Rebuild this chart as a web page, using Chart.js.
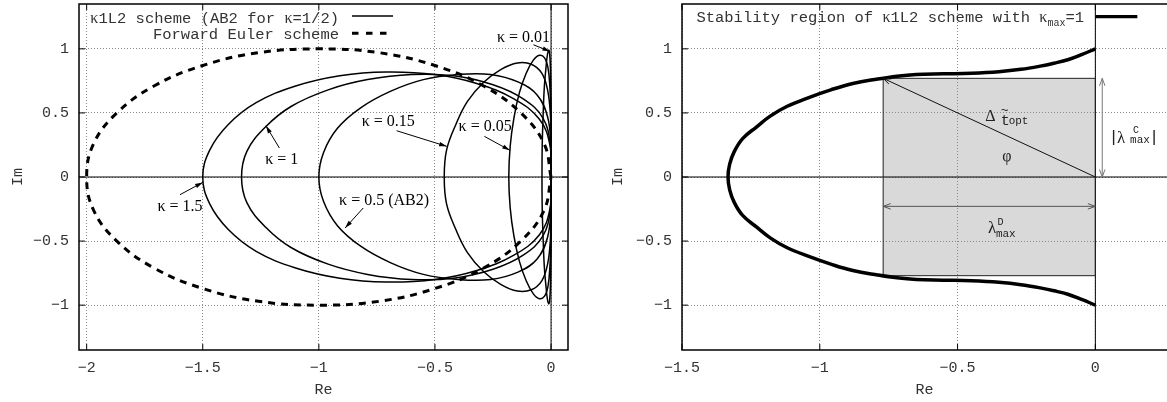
<!DOCTYPE html>
<html>
<head>
<meta charset="utf-8">
<script src="https://cdn.jsdelivr.net/npm/chart.js"></script>
<style>
  html, body { margin: 0; padding: 0; background: #fff; }
  #wrap { position: relative; width: 1167px; height: 402px; overflow: hidden; }
  canvas { position: absolute; top: 0; }
  #leftChart { left: 0; }
  #rightChart { left: 600px; }
</style>
</head>
<body>
<div id="wrap">
  <canvas id="leftChart" width="600" height="402"></canvas>
  <canvas id="rightChart" width="567" height="402"></canvas>
</div>
<script>
// ---- values ----
var xTicksLeft = [-2, -1.5, -1, -0.5, 0];
var xLabelsLeft = ['\u22122', '\u22121.5', '\u22121', '\u22120.5', '0'];
var xTicksRight = [-1.5, -1, -0.5, 0];
var xLabelsRight = ['\u22121.5', '\u22121', '\u22120.5', '0'];
var yTicks = [-1, -0.5, 0, 0.5, 1];
var yLabels = ['\u22121', '\u22120.5', '0', '0.5', '1'];

// Forward Euler boundary (dashed)
var eulerRe = [0, -0.03, -0.13, -0.29, -0.50, -0.74, -1.00, -1.26, -1.50, -1.71, -1.87, -1.97, -2.00,
               -1.97, -1.87, -1.71, -1.50, -1.26, -1.00, -0.74, -0.50, -0.29, -0.13, -0.03, 0];
var eulerIm = [0, 0.26, 0.50, 0.71, 0.87, 0.97, 1.00, 0.97, 0.87, 0.71, 0.50, 0.26, 0,
               -0.26, -0.50, -0.71, -0.87, -0.97, -1.00, -0.97, -0.87, -0.71, -0.50, -0.26, 0];

// kappa = 1.5
var k150Re = [0, -0.005, -0.05, -0.16, -0.32, -0.50, -0.71, -0.91, -1.10, -1.27, -1.39, -1.47, -1.50,
              -1.47, -1.39, -1.27, -1.10, -0.91, -0.71, -0.50, -0.32, -0.16, -0.05, -0.005, 0];
var k150Im = [0, 0.25, 0.45, 0.61, 0.73, 0.80, 0.82, 0.79, 0.71, 0.58, 0.41, 0.21, 0,
              -0.21, -0.41, -0.58, -0.71, -0.79, -0.82, -0.80, -0.73, -0.61, -0.45, -0.25, 0];
// kappa = 1
var k100Re = [0, -0.003, -0.035, -0.12, -0.25, -0.42, -0.60, -0.79, -0.96, -1.12, -1.23, -1.31, -1.333,
              -1.31, -1.23, -1.12, -0.96, -0.79, -0.60, -0.42, -0.25, -0.12, -0.035, -0.003, 0];
var k100Im = [0, 0.25, 0.46, 0.61, 0.72, 0.79, 0.80, 0.76, 0.68, 0.55, 0.39, 0.20, 0,
              -0.20, -0.39, -0.55, -0.68, -0.76, -0.80, -0.79, -0.72, -0.61, -0.46, -0.25, 0];
// kappa = 0.5 (AB2)
var k050Re = [0, -0.001, -0.015, -0.06, -0.14, -0.26, -0.40, -0.55, -0.69, -0.82, -0.92, -0.98, -1.00,
              -0.98, -0.92, -0.82, -0.69, -0.55, -0.40, -0.26, -0.14, -0.06, -0.015, -0.001, 0];
var k050Im = [0, 0.25, 0.47, 0.64, 0.74, 0.80, 0.80, 0.76, 0.67, 0.54, 0.38, 0.19, 0,
              -0.19, -0.38, -0.54, -0.67, -0.76, -0.80, -0.80, -0.74, -0.64, -0.47, -0.25, 0];
// kappa = 0.15
var k015Re = [0, 0, -0.003, -0.015, -0.04, -0.085, -0.145, -0.215, -0.29, -0.36, -0.41, -0.45, -0.46,
              -0.45, -0.41, -0.36, -0.29, -0.215, -0.145, -0.085, -0.04, -0.015, -0.003, 0, 0];
var k015Im = [0, 0.26, 0.49, 0.68, 0.81, 0.88, 0.89, 0.84, 0.74, 0.59, 0.41, 0.21, 0,
              -0.21, -0.41, -0.59, -0.74, -0.84, -0.89, -0.88, -0.81, -0.68, -0.49, -0.26, 0];
// kappa = 0.05
var k005Re = [0, 0, -0.001, -0.005, -0.013, -0.028, -0.05, -0.077, -0.107, -0.136, -0.16, -0.176, -0.182,
              -0.176, -0.16, -0.136, -0.107, -0.077, -0.05, -0.028, -0.013, -0.005, -0.001, 0, 0];
var k005Im = [0, 0.26, 0.50, 0.70, 0.85, 0.93, 0.95, 0.91, 0.81, 0.66, 0.46, 0.24, 0,
              -0.24, -0.46, -0.66, -0.81, -0.91, -0.95, -0.93, -0.85, -0.70, -0.50, -0.26, 0];
// kappa = 0.01
var k001Re = [0, 0, 0, -0.001, -0.003, -0.006, -0.010, -0.016, -0.022, -0.029, -0.034, -0.038, -0.039,
              -0.038, -0.034, -0.029, -0.022, -0.016, -0.010, -0.006, -0.003, -0.001, 0, 0, 0];
var k001Im = [0, 0.26, 0.50, 0.71, 0.86, 0.96, 0.99, 0.95, 0.85, 0.70, 0.49, 0.25, 0,
              -0.25, -0.49, -0.70, -0.85, -0.95, -0.99, -0.96, -0.86, -0.71, -0.50, -0.26, 0];

// stability region with kappa_max = 1 (right panel)
var envRe = [0, -0.05, -0.10, -0.15, -0.20, -0.27, -0.35, -0.45, -0.55, -0.65, -0.72, -0.79, -0.88, -0.96,
             -1.04, -1.12, -1.18, -1.23, -1.28, -1.31, -1.327, -1.333,
             -1.327, -1.31, -1.28, -1.23, -1.18, -1.12, -1.04, -0.96, -0.88, -0.79, -0.72,
             -0.65, -0.55, -0.45, -0.35, -0.27, -0.20, -0.15, -0.10, -0.05, 0];
var envIm = [1.00, 0.955, 0.915, 0.888, 0.865, 0.84, 0.822, 0.81, 0.805, 0.80, 0.787, 0.765, 0.73, 0.68,
             0.62, 0.55, 0.475, 0.39, 0.30, 0.20, 0.10, 0,
             -0.10, -0.20, -0.30, -0.39, -0.475, -0.55, -0.62, -0.68, -0.73, -0.765, -0.787,
             -0.80, -0.805, -0.81, -0.822, -0.84, -0.865, -0.888, -0.915, -0.955, -1.00];

// shaded box: [re min, re max], [im min, im max]
var boxRe = [-0.77, 0];
var boxIm = [-0.77, 0.77];

// ---- styling ----
var INK = '#333';
var GRID = '#8a8a8a';
var MONO = '15px "Liberation Mono", monospace';
var MONO_KEY = '15.5px "Liberation Mono", monospace';
var MONO_SUB = '11px "Liberation Mono", monospace';
var MONO_SUP = '10px "Liberation Mono", monospace';
var SERIF = '16px "Liberation Serif", serif';
var SERIF_BIG = '17px "Liberation Serif", serif';
var monoFont = {family: '"Liberation Mono", monospace', size: 15};

var leftLabels = [
  {t: '\u03ba = 1.5', at: [-1.598, -0.229]},
  {t: '\u03ba = 1', at: [-1.160, 0.135]},
  {t: '\u03ba = 0.15', at: [-0.701, 0.434]},
  {t: '\u03ba = 0.05', at: [-0.284, 0.390]},
  {t: '\u03ba = 0.01', at: [-0.119, 1.085]},
  {t: '\u03ba = 0.5 (AB2)', at: [-0.719, -0.185]}
];
var leftArrows = [
  {from: [-1.598, -0.138], to: [-1.5, -0.042]},
  {from: [-1.170, 0.226], to: [-1.228, 0.40]},
  {from: [-0.665, 0.361], to: [-0.449, 0.239]},
  {from: [-0.287, 0.317], to: [-0.177, 0.208]},
  {from: [-0.076, 1.032], to: [-0.004, 0.980]},
  {from: [-0.809, -0.242], to: [-0.887, -0.398]}
];

function head(ctx, x1, y1, x2, y2, open) {
  var ang = Math.atan2(y2 - y1, x2 - x1), L = 8, w = open ? 0.35 : 0.28;
  ctx.beginPath();
  ctx.moveTo(x2 - L * Math.cos(ang - w), y2 - L * Math.sin(ang - w));
  ctx.lineTo(x2, y2);
  ctx.lineTo(x2 - L * Math.cos(ang + w), y2 - L * Math.sin(ang + w));
  if (open) { ctx.stroke(); } else { ctx.closePath(); ctx.fill(); }
}

function arrow(ctx, x1, y1, x2, y2, both, open) {
  ctx.beginPath();
  ctx.moveTo(x1, y1);
  ctx.lineTo(x2, y2);
  ctx.stroke();
  head(ctx, x1, y1, x2, y2, open);
  if (both) head(ctx, x2, y2, x1, y1, open);
}

// text made of pieces in different fonts, right aligned at xr
function richRight(ctx, parts, xr, y) {
  var w = 0;
  parts.forEach(function(p) { ctx.font = p.f; w += ctx.measureText(p.t).width; });
  var x = xr - w;
  parts.forEach(function(p) {
    ctx.font = p.f;
    ctx.fillText(p.t, x, y + (p.dy || 0));
    x += ctx.measureText(p.t).width;
  });
}

function curve(re, im, width, dash) {
  return {
    data: re.map(function(r, i) { return {x: r, y: im[i]}; }),
    showLine: true,
    borderColor: '#000',
    borderWidth: width,
    borderDash: dash || [],
    borderCapStyle: 'butt',
    pointRadius: 0,
    tension: 0.4,
    fill: false
  };
}

// frame, inward tics and zero axes, gnuplot style
var frame = {
  id: 'frame',
  beforeDatasetsDraw: function(chart) {
    var ctx = chart.ctx, a = chart.chartArea;
    var x0 = chart.scales.x.getPixelForValue(0), y0 = chart.scales.y.getPixelForValue(0);
    ctx.save();
    ctx.strokeStyle = '#000';
    ctx.lineWidth = 1;
    ctx.beginPath();
    ctx.moveTo(a.left, y0); ctx.lineTo(a.right, y0);
    ctx.moveTo(x0, a.top); ctx.lineTo(x0, a.bottom);
    ctx.stroke();
    ctx.restore();
  },
  afterDraw: function(chart, args, opts) {
    var ctx = chart.ctx, a = chart.chartArea;
    var sx = chart.scales.x, sy = chart.scales.y;
    ctx.save();
    ctx.strokeStyle = '#000';
    ctx.lineWidth = 1.5;
    ctx.beginPath();
    if (opts.right) {
      ctx.rect(a.left, a.top, a.right - a.left, a.bottom - a.top);
    } else {
      ctx.moveTo(a.right + 2, a.top); ctx.lineTo(a.left, a.top);
      ctx.lineTo(a.left, a.bottom); ctx.lineTo(a.right + 2, a.bottom);
    }
    ctx.stroke();
    ctx.lineWidth = 1;
    ctx.beginPath();
    sx.ticks.forEach(function(t) {
      var x = sx.getPixelForValue(t.value);
      ctx.moveTo(x, a.bottom); ctx.lineTo(x, a.bottom - 6);
      ctx.moveTo(x, a.top); ctx.lineTo(x, a.top + 6);
    });
    sy.ticks.forEach(function(t) {
      var y = sy.getPixelForValue(t.value);
      ctx.moveTo(a.left, y); ctx.lineTo(a.left + 6, y);
      if (opts.right) { ctx.moveTo(a.right, y); ctx.lineTo(a.right - 6, y); }
    });
    ctx.stroke();
    ctx.restore();
  }
};

var leftNotes = {
  id: 'leftNotes',
  afterDraw: function(chart) {
    var ctx = chart.ctx, a = chart.chartArea;
    var X = function(v) { return chart.scales.x.getPixelForValue(v); };
    var Y = function(v) { return chart.scales.y.getPixelForValue(v); };
    ctx.save();
    ctx.fillStyle = INK;
    ctx.textAlign = 'left';
    ctx.textBaseline = 'alphabetic';
    richRight(ctx, [
      {t: '\u03ba', f: SERIF},
      {t: '1L2 scheme (AB2 for ', f: MONO_KEY},
      {t: '\u03ba', f: SERIF},
      {t: '=1/2)', f: MONO_KEY}
    ], a.left + 260, a.top + 19);
    richRight(ctx, [{t: 'Forward Euler scheme', f: MONO_KEY}], a.left + 260, a.top + 34.5);
    ctx.strokeStyle = '#000';
    ctx.lineWidth = 1.5;
    ctx.beginPath(); ctx.moveTo(a.left + 273, a.top + 12); ctx.lineTo(a.left + 314, a.top + 12); ctx.stroke();
    ctx.lineWidth = 3;
    ctx.setLineDash([6.5, 7.5]);
    ctx.beginPath(); ctx.moveTo(a.left + 273, a.top + 29.3); ctx.lineTo(a.left + 314, a.top + 29.3); ctx.stroke();
    ctx.setLineDash([]);

    ctx.font = SERIF;
    ctx.fillStyle = '#000';
    ctx.textAlign = 'center';
    ctx.textBaseline = 'middle';
    leftLabels.forEach(function(l) { ctx.fillText(l.t, X(l.at[0]), Y(l.at[1])); });
    ctx.lineWidth = 1;
    leftArrows.forEach(function(r) {
      arrow(ctx, X(r.from[0]), Y(r.from[1]), X(r.to[0]), Y(r.to[1]), false, false);
    });
    ctx.restore();
  }
};

var rightNotes = {
  id: 'rightNotes',
  beforeDraw: function(chart) {
    var ctx = chart.ctx, sx = chart.scales.x, sy = chart.scales.y;
    var x1 = sx.getPixelForValue(boxRe[0]), x2 = sx.getPixelForValue(boxRe[1]);
    var y1 = sy.getPixelForValue(boxIm[1]), y2 = sy.getPixelForValue(boxIm[0]);
    ctx.save();
    ctx.fillStyle = '#d9d9d9';
    ctx.fillRect(x1, y1, x2 - x1, y2 - y1);
    ctx.restore();
  },
  beforeDatasetsDraw: function(chart) {
    var ctx = chart.ctx, sx = chart.scales.x, sy = chart.scales.y;
    var x1 = sx.getPixelForValue(boxRe[0]), x2 = sx.getPixelForValue(boxRe[1]);
    var y1 = sy.getPixelForValue(boxIm[1]), y2 = sy.getPixelForValue(boxIm[0]);
    ctx.save();
    ctx.strokeStyle = '#222';
    ctx.lineWidth = 1;
    ctx.strokeRect(x1, y1, x2 - x1, y2 - y1);
    ctx.restore();
  },
  afterDraw: function(chart) {
    var ctx = chart.ctx, a = chart.chartArea;
    var X = function(v) { return chart.scales.x.getPixelForValue(v); };
    var Y = function(v) { return chart.scales.y.getPixelForValue(v); };
    ctx.save();

    // key
    ctx.fillStyle = INK;
    ctx.textBaseline = 'alphabetic';
    ctx.textAlign = 'left';
    richRight(ctx, [
      {t: 'Stability region of ', f: MONO_KEY},
      {t: '\u03ba', f: SERIF},
      {t: '1L2 scheme with ', f: MONO_KEY},
      {t: '\u03ba', f: SERIF},
      {t: 'max', f: MONO_SUP, dy: 4},
      {t: '=1', f: MONO_KEY}
    ], a.left + 402, a.top + 17.5);
    ctx.strokeStyle = '#000';
    ctx.lineWidth = 3.2;
    ctx.beginPath(); ctx.moveTo(X(0), a.top + 12.7); ctx.lineTo(X(0) + 42, a.top + 12.7); ctx.stroke();

    // diagonal arrow to the corner of the box
    ctx.lineWidth = 1;
    ctx.strokeStyle = '#111';
    arrow(ctx, X(0), Y(0), X(boxRe[0]), Y(boxIm[1]), false, true);
    // double arrows
    ctx.strokeStyle = '#555';
    arrow(ctx, X(boxRe[0]), Y(-0.229), X(0), Y(-0.229), true, true);
    ctx.strokeStyle = '#777';
    arrow(ctx, X(0.025), Y(boxIm[1]), X(0.025), Y(0), true, true);

    // labels
    ctx.fillStyle = '#222';
    var x, y;
    // Delta t~ opt
    x = X(-0.400); y = Y(0.439);
    ctx.font = SERIF; ctx.fillText('\u0394', x, y);
    ctx.font = MONO; ctx.fillText('t', x + 15.5, y + 4);
    ctx.font = '13px "Liberation Mono", monospace'; ctx.fillText('~', x + 15.5, y - 7);
    ctx.font = MONO_SUB; ctx.fillText('opt', x + 23.5, y + 3.5);
    // phi
    ctx.font = SERIF; ctx.textAlign = 'center'; ctx.textBaseline = 'middle';
    ctx.fillText('\u03c6', X(-0.321), Y(0.155));
    ctx.textBaseline = 'alphabetic';
    // |lambda^C_max|
    x = X(0.066); y = Y(0.275);
    ctx.font = '17px "Liberation Mono", monospace';
    ctx.fillText('|', x, y);
    ctx.fillText('|', x + 40.5, y);
    ctx.textAlign = 'left';
    ctx.font = SERIF_BIG; ctx.fillText('\u03bb', x + 3.5, y + 1);
    ctx.font = MONO_SUP; ctx.fillText('C', x + 19.5, y - 9);
    ctx.font = MONO_SUB; ctx.fillText('max', x + 16.5, y + 1);
    // lambda^D_max
    x = X(-0.390); y = Y(-0.435);
    ctx.font = SERIF_BIG; ctx.fillText('\u03bb', x, y);
    ctx.font = MONO_SUP; ctx.fillText('D', x + 9.5, y - 8);
    ctx.font = MONO_SUB; ctx.fillText('max', x + 8, y + 4);

    ctx.restore();
  }
};

function axisOptions(xMin, xMax, xTicks, xLabels, yWidth, padRight, frameRight) {
  return {
    responsive: false,
    animation: false,
    events: [],
    layout: {padding: {top: 4, right: padRight, bottom: 0, left: 0}},
    plugins: {
      legend: {display: false},
      tooltip: {enabled: false},
      frame: {right: frameRight}
    },
    scales: {
      x: {
        type: 'linear',
        min: xMin,
        max: xMax,
        afterBuildTicks: function(s) { s.ticks = xTicks.map(function(v) { return {value: v}; }); },
        afterFit: function(s) { s.height = 52; s.paddingLeft = 0; s.paddingRight = 0; },
        ticks: {
          autoSkip: false, maxRotation: 0, padding: 9, color: INK, font: monoFont,
          callback: function(v, i) { return xLabels[i]; }
        },
        grid: {color: GRID, lineWidth: 1, drawTicks: false},
        border: {display: false, dash: [1, 2]},
        title: {display: true, text: 'Re', color: INK, font: monoFont, padding: {top: 0, bottom: 3}}
      },
      y: {
        type: 'linear',
        min: -1.35,
        max: 1.35,
        afterBuildTicks: function(s) { s.ticks = yTicks.map(function(v) { return {value: v}; }); },
        afterFit: function(s) { s.width = yWidth; s.paddingTop = 0; s.paddingBottom = 0; },
        ticks: {
          autoSkip: false, padding: 10, color: INK, font: monoFont,
          callback: function(v, i) { return yLabels[i]; }
        },
        grid: {color: GRID, lineWidth: 1, drawTicks: false},
        border: {display: false, dash: [1, 2]},
        title: {display: true, text: 'Im', color: INK, font: monoFont, padding: {top: 9, bottom: 0}}
      }
    }
  };
}

new Chart(document.getElementById('leftChart'), {
  type: 'scatter',
  data: {
    datasets: [
      curve(eulerRe, eulerIm, 3, [7, 6]),
      curve(k150Re, k150Im, 1.5),
      curve(k100Re, k100Im, 1.5),
      curve(k050Re, k050Im, 1.5),
      curve(k015Re, k015Im, 1.5),
      curve(k005Re, k005Im, 1.5),
      curve(k001Re, k001Im, 1.5)
    ]
  },
  options: axisOptions(-2.033, 0.073, xTicksLeft, xLabelsLeft, 79, 32, true),
  plugins: [frame, leftNotes]
});

new Chart(document.getElementById('rightChart'), {
  type: 'scatter',
  data: {
    datasets: [curve(envRe, envIm, 3.5)]
  },
  options: axisOptions(-1.5, 0.26, xTicksRight, xLabelsRight, 82, 0, false),
  plugins: [frame, rightNotes]
});
</script>
</body>
</html>
